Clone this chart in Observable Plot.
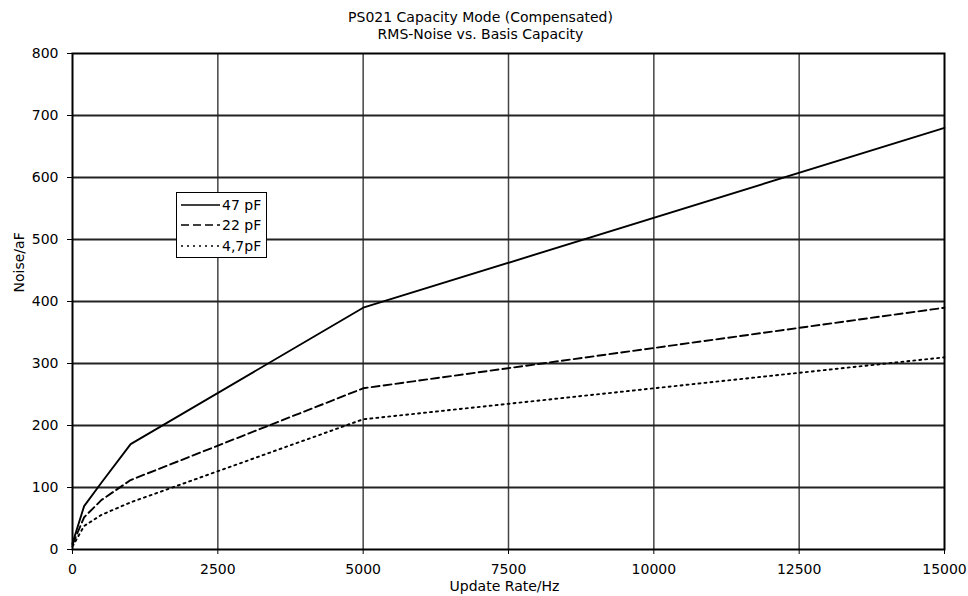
<!DOCTYPE html>
<html>
<head>
<meta charset="utf-8">
<script src="https://cdn.jsdelivr.net/npm/d3@7"></script>
<script src="https://cdn.jsdelivr.net/npm/@observablehq/plot@0.6"></script>
<style>
  body { margin: 0; background: white; font-family: "DejaVu Sans", sans-serif; }
  #wrap { position: relative; width: 968px; height: 596px; }
  #legend { position: absolute; left: 176px; top: 192px; width: 89px; height: 64px;
            border: 1px solid #000; background: #fff; font-size: 14px; color: #000; }
  .row { position: absolute; left: 4px; height: 20px; display: flex; align-items: center; }
  .row span { margin-left: 1px; white-space: nowrap; }
</style>
</head>
<body>
<div id="wrap"></div>
<script>
// ---- data ----
const rates = [0, 200, 500, 1000, 5000, 15000];
const noise47 = [10, 70, 108, 170, 390, 680];
const noise22 = [8, 52, 80, 112, 260, 390];
const noise4_7 = [5, 38, 56, 76, 210, 310];
const seriesNames = ["47 pF", "22 pF", "4,7pF"];
const xTicks = [0, 2500, 5000, 7500, 10000, 12500, 15000];
const yTicks = [0, 100, 200, 300, 400, 500, 600, 700, 800];
const titleLines = ["PS021 Capacity Mode (Compensated)", "RMS-Noise vs. Basis Capacity"];
const xLabel = "Update Rate/Hz";
const yLabel = "Noise/aF";

const dashes = [null, "8,4", "2,4"];
const seriesValues = [noise47, noise22, noise4_7];
const rows = [];
seriesValues.forEach((vals, i) => vals.forEach((v, j) => rows.push({series: seriesNames[i], rate: rates[j], noise: v})));

const FS = 14;
const chart = Plot.plot({
  width: 968,
  height: 596,
  marginLeft: 72,
  marginRight: 24,
  marginTop: 53,
  marginBottom: 47,
  style: {fontFamily: "DejaVu Sans, sans-serif", fontSize: FS + "px", color: "#000", background: "#fff"},
  x: {domain: [0, 15000]},
  y: {domain: [0, 800]},
  marks: [
    Plot.ruleX(xTicks.slice(1, -1), {stroke: "#444", strokeWidth: 1.5}),
    Plot.ruleY(yTicks.slice(1, -1), {stroke: "#222", strokeWidth: 2}),
    ...seriesNames.map((name, i) =>
      Plot.line(rows.filter(d => d.series === name), {
        x: "rate", y: "noise", stroke: "#000", strokeWidth: 1.9,
        strokeDasharray: dashes[i] ?? undefined, strokeLinejoin: "miter"
      })
    ),
    Plot.frame({stroke: "#000", strokeWidth: 2}),
    Plot.axisX({ticks: xTicks, tickSize: 5, tickPadding: 10, label: null, tickFormat: d => String(d), fontSize: FS}),
    Plot.axisY({ticks: yTicks, tickSize: 5, tickPadding: 9, label: null, tickFormat: d => String(d), fontSize: FS}),
    Plot.text([yLabel], {frameAnchor: "left", dx: -53, dy: -9, rotate: -90, fontSize: FS, fill: "#000"}),
    Plot.text([xLabel], {frameAnchor: "bottom", dy: 37, dx: -4, fontSize: FS, fill: "#000", lineAnchor: "middle"}),
    Plot.text([titleLines[0]], {frameAnchor: "top-left", dx: 408, dy: -36, textAnchor: "middle", lineAnchor: "middle", fontSize: FS, fill: "#000"}),
    Plot.text([titleLines[1]], {frameAnchor: "top-left", dx: 408, dy: -19, textAnchor: "middle", lineAnchor: "middle", fontSize: FS, fill: "#000"})
  ]
});

const wrap = document.getElementById("wrap");
wrap.appendChild(chart);

// legend
const legend = document.createElement("div");
legend.id = "legend";
const rowTops = [2, 22, 43];
seriesNames.forEach((name, i) => {
  const r = document.createElement("div");
  r.className = "row";
  r.style.top = rowTops[i] + "px";
  r.innerHTML = `<svg width="40" height="10"><line x1="0" y1="5" x2="39" y2="5" stroke="#000" stroke-width="1.5" ${dashes[i] ? `stroke-dasharray="${dashes[i]}"` : ""}/></svg><span>${name}</span>`;
  legend.appendChild(r);
});
wrap.appendChild(legend);
</script>
</body>
</html>
